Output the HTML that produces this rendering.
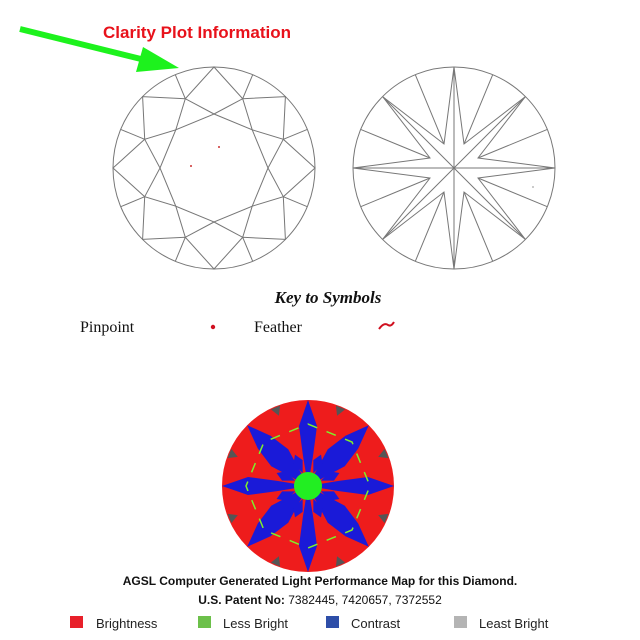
<!DOCTYPE html>
<html><head><meta charset="utf-8"><style>
body{margin:0;background:#fff;}
svg{display:block}
</style></head><body>
<svg width="640" height="640" viewBox="0 0 640 640" xmlns="http://www.w3.org/2000/svg">
<rect width="640" height="640" fill="#fff"/>
<line x1="20" y1="29" x2="145" y2="60" stroke="#1df21d" stroke-width="6"/>
<polygon points="179,68 143,47 136,72" fill="#1df21d"/>
<text x="197" y="38" text-anchor="middle" font-family="Liberation Sans, sans-serif" font-weight="bold" font-size="17" fill="#e8121b">Clarity Plot Information</text>

<g fill="none" stroke="#777" stroke-width="1">
<circle cx="214" cy="168" r="101"/>
<polygon points="214,114 252.2,129.8 268,168 252.2,206.2 214,222 175.8,206.2 160,168 175.8,129.8"/>
<polygon points="214,114 242.7,98.7 252.2,129.8 283.3,139.3 268,168 283.3,196.7 252.2,206.2 242.7,237.3 214,222 185.3,237.3 175.8,206.2 144.7,196.7 160,168 144.7,139.3 175.8,129.8 185.3,98.7"/>
<polygon points="214,67 242.7,98.7 285.4,96.6 283.3,139.3 315,168 283.3,196.7 285.4,239.4 242.7,237.3 214,269 185.3,237.3 142.6,239.4 144.7,196.7 113,168 144.7,139.3 142.6,96.6 185.3,98.7"/>
<path d="M242.7,98.7L252.7,74.7M283.3,139.3L307.3,129.4M283.3,196.7L307.3,206.7M242.7,237.3L252.7,261.3M185.3,237.3L175.3,261.3M144.7,196.7L120.7,206.7M144.7,139.3L120.7,129.4M185.3,98.7L175.3,74.7"/>
</g>
<circle cx="219" cy="147" r="1" fill="#c33"/>
<circle cx="191" cy="166" r="1" fill="#c33"/>

<g fill="none" stroke="#777" stroke-width="1">
<circle cx="454" cy="168" r="101"/>
<path d="M454,67L454,269M525.4,96.6L382.6,239.4M555,168L353,168M525.4,239.4L382.6,96.6"/>
<polygon points="454,67 464,144 525.4,96.6 478,158 555,168 478,178 525.4,239.4 464,192 454,269 444,192 382.6,239.4 430,178 353,168 430,158 382.6,96.6 444,144"/>
<path d="M464,144L492.7,74.7M478,158L547.3,129.4M478,178L547.3,206.7M464,192L492.7,261.3M444,192L415.3,261.3M430,178L360.7,206.7M430,158L360.7,129.4M444,144L415.3,74.7"/>
</g>
<circle cx="533" cy="187" r="1" fill="#bbb"/>

<text x="328" y="303" text-anchor="middle" font-family="Liberation Serif, serif" font-style="italic" font-weight="bold" font-size="17" fill="#111">Key to Symbols</text>
<text x="80" y="332" font-family="Liberation Serif, serif" font-size="16" fill="#111">Pinpoint</text>
<circle cx="213" cy="327" r="2.2" fill="#d01020"/>
<text x="254" y="332" font-family="Liberation Serif, serif" font-size="16" fill="#111">Feather</text>
<path d="M379,329 Q384,322 388,325 Q391,327 394,322" fill="none" stroke="#d01020" stroke-width="2"/>

<g transform="translate(308,486)">
<circle r="86" fill="#ee1c1c"/>
<g fill="#555">
<polygon points="-5,-85 5,-85 0,-76" transform="rotate(22.5)"/>
<polygon points="-5,-85 5,-85 0,-76" transform="rotate(67.5)"/>
<polygon points="-5,-85 5,-85 0,-76" transform="rotate(112.5)"/>
<polygon points="-5,-85 5,-85 0,-76" transform="rotate(157.5)"/>
<polygon points="-5,-85 5,-85 0,-76" transform="rotate(202.5)"/>
<polygon points="-5,-85 5,-85 0,-76" transform="rotate(247.5)"/>
<polygon points="-5,-85 5,-85 0,-76" transform="rotate(292.5)"/>
<polygon points="-5,-85 5,-85 0,-76" transform="rotate(337.5)"/>
</g>
<g fill="#1a1ad8">
<polygon points="0,0 -5,-30 -9,-60 0,-86 9,-60 5,-30" transform="rotate(0)"/>
<polygon points="0,0 -12,-40 -9,-62 0,-86 9,-62 12,-40" transform="rotate(45)"/>
<polygon points="0,0 -5,-30 -9,-60 0,-86 9,-60 5,-30" transform="rotate(90)"/>
<polygon points="0,0 -12,-40 -9,-62 0,-86 9,-62 12,-40" transform="rotate(135)"/>
<polygon points="0,0 -5,-30 -9,-60 0,-86 9,-60 5,-30" transform="rotate(180)"/>
<polygon points="0,0 -12,-40 -9,-62 0,-86 9,-62 12,-40" transform="rotate(225)"/>
<polygon points="0,0 -5,-30 -9,-60 0,-86 9,-60 5,-30" transform="rotate(270)"/>
<polygon points="0,0 -12,-40 -9,-62 0,-86 9,-62 12,-40" transform="rotate(315)"/>
<polygon points="0,-14 -5,-26 0,-34 5,-26" transform="rotate(22.5)"/>
<polygon points="0,-14 -5,-26 0,-34 5,-26" transform="rotate(67.5)"/>
<polygon points="0,-14 -5,-26 0,-34 5,-26" transform="rotate(112.5)"/>
<polygon points="0,-14 -5,-26 0,-34 5,-26" transform="rotate(157.5)"/>
<polygon points="0,-14 -5,-26 0,-34 5,-26" transform="rotate(202.5)"/>
<polygon points="0,-14 -5,-26 0,-34 5,-26" transform="rotate(247.5)"/>
<polygon points="0,-14 -5,-26 0,-34 5,-26" transform="rotate(292.5)"/>
<polygon points="0,-14 -5,-26 0,-34 5,-26" transform="rotate(337.5)"/>
</g>
<polygon points="0,-62 44,-44 62,0 44,44 0,62 -44,44 -62,0 -44,-44" fill="none" stroke="#7ef02a" stroke-width="1.5" stroke-dasharray="10 10"/>
<circle r="14" fill="#22ee22"/>
</g>

<g font-family="Liberation Sans, sans-serif" font-weight="bold" font-size="12" fill="#111" text-anchor="middle">
<text x="320" y="585">AGSL Computer Generated Light Performance Map for this Diamond.</text>
<text x="320" y="604"><tspan>U.S. Patent No: </tspan><tspan font-weight="normal">7382445, 7420657, 7372552</tspan></text>
</g>
<g font-family="Liberation Sans, sans-serif" font-size="13" fill="#222">
<rect x="70" y="616" width="13" height="12" fill="#e8202a"/>
<text x="96" y="628">Brightness</text>
<rect x="198" y="616" width="13" height="12" fill="#6cc04a"/>
<text x="223" y="628">Less Bright</text>
<rect x="326" y="616" width="13" height="12" fill="#2e4ea8"/>
<text x="351" y="628">Contrast</text>
<rect x="454" y="616" width="13" height="12" fill="#b4b4b4"/>
<text x="479" y="628">Least Bright</text>
</g>
</svg>
</body></html>
